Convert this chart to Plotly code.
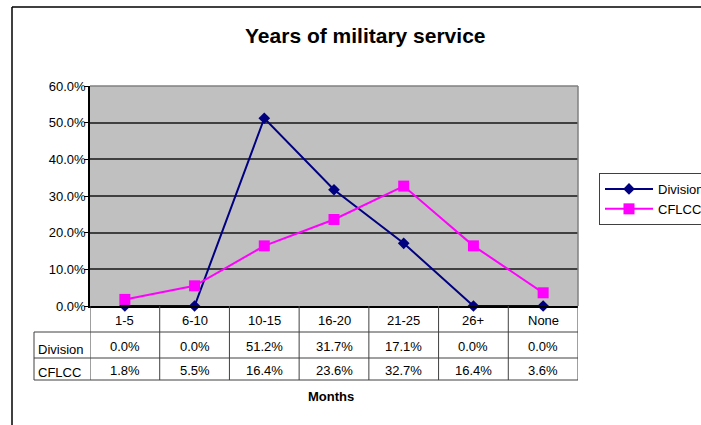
import plotly.graph_objects as go

W, H = 701, 425

categories = ["1-5", "6-10", "10-15", "16-20", "21-25", "26+", "None"]
division = [0.0, 0.0, 51.2, 31.7, 17.1, 0.0, 0.0]
cflcc = [1.8, 5.5, 16.4, 23.6, 32.7, 16.4, 3.6]
series_names = ["Division", "CFLCC"]
title_text = "Years of military service"
xlabel_text = "Months"


def px(x):
    return x / W


def py(y):
    return 1 - y / H


FONT = "Arial, 'Liberation Sans', sans-serif"
x_idx = list(range(len(categories)))

fig = go.Figure()
fig.add_trace(go.Scatter(
    x=x_idx, y=[v / 100 for v in division], name=series_names[0],
    mode="lines+markers", line=dict(color="#000080", width=2),
    marker=dict(symbol="diamond", size=9, color="#000080"), cliponaxis=False))
fig.add_trace(go.Scatter(
    x=x_idx, y=[v / 100 for v in cflcc], name=series_names[1],
    mode="lines+markers", line=dict(color="#FF00FF", width=2),
    marker=dict(symbol="square", size=11, color="#FF00FF"), cliponaxis=False))

L, R, T, B = 90, 578, 86, 306
shapes = []
annotations = []

# outer chart border (top and left visible)
shapes.append(dict(type="line", xref="paper", yref="paper", x0=px(12), x1=1.05,
                   y0=py(7), y1=py(7), line=dict(color="black", width=1.5)))
shapes.append(dict(type="line", xref="paper", yref="paper", x0=px(12), x1=px(12),
                   y0=py(7), y1=-0.05, line=dict(color="black", width=1.5)))

# plot area top/right border
shapes.append(dict(type="line", xref="paper", yref="paper", x0=px(L), x1=px(R),
                   y0=py(T), y1=py(T), line=dict(color="#808080", width=1.5)))
shapes.append(dict(type="line", xref="paper", yref="paper", x0=px(R), x1=px(R),
                   y0=py(T), y1=py(B), line=dict(color="#808080", width=1.5)))

# data table grid
tcol = "#404040"
for i in range(len(categories) + 1):
    shapes.append(dict(type="line", xref="x", yref="paper", x0=i - 0.5, x1=i - 0.5,
                       y0=py(B), y1=py(380), line=dict(color=tcol, width=1)))
for yy in (332, 358, 380):
    shapes.append(dict(type="line", xref="paper", yref="paper", x0=px(34), x1=px(R),
                       y0=py(yy), y1=py(yy), line=dict(color=tcol, width=1)))
shapes.append(dict(type="line", xref="paper", yref="paper", x0=px(34), x1=px(34),
                   y0=py(332), y1=py(380), line=dict(color=tcol, width=1)))


def ann(x, y, text, xref="paper", xanchor="center", size=13):
    return dict(x=x, y=y, xref=xref, yref="paper", text=text, showarrow=False,
                xanchor=xanchor, yanchor="middle",
                font=dict(size=size, color="black", family=FONT))


for i, c in enumerate(categories):
    annotations.append(ann(i, py(320), c, xref="x"))
    annotations.append(ann(i, py(346), f"{division[i]:.1f}%", xref="x"))
    annotations.append(ann(i, py(370), f"{cflcc[i]:.1f}%", xref="x"))

annotations.append(ann(px(36), py(349), series_names[0], xanchor="left"))
annotations.append(ann(px(36), py(372), series_names[1], xanchor="left"))
annotations.append(ann(px(331), py(396), f"<b>{xlabel_text}</b>", size=13))
annotations.append(ann(px(366), py(35), f"<b>{title_text}</b>", size=21))

fig.update_layout(
    width=W, height=H,
    margin=dict(l=0, r=0, t=0, b=0, autoexpand=False),
    paper_bgcolor="white", plot_bgcolor="#C0C0C0",
    font=dict(family=FONT, size=13, color="black"),
    shapes=shapes, annotations=annotations,
    showlegend=True,
    legend=dict(x=px(599), y=py(173), xanchor="left", yanchor="top",
                bordercolor="#404040", borderwidth=1, bgcolor="white",
                font=dict(size=13, family=FONT), itemwidth=48, tracegroupgap=0),
    xaxis=dict(domain=[px(L), px(R)], range=[-0.5, 6.5], showticklabels=False,
               showgrid=False, zeroline=False, showline=True, linecolor="black",
               linewidth=2, ticks="", fixedrange=True),
    yaxis=dict(domain=[py(B), py(T)], range=[0, 0.6], dtick=0.1, tickformat=".1%",
               showgrid=True, gridcolor="#404040", gridwidth=1.5, zeroline=False,
               showline=True, linecolor="black", linewidth=1.5, ticks="outside",
               ticklen=4, tickcolor="black", ticklabelstandoff=-4,
               tickfont=dict(size=13, family=FONT)),
)

fig.write_html("out.html")
